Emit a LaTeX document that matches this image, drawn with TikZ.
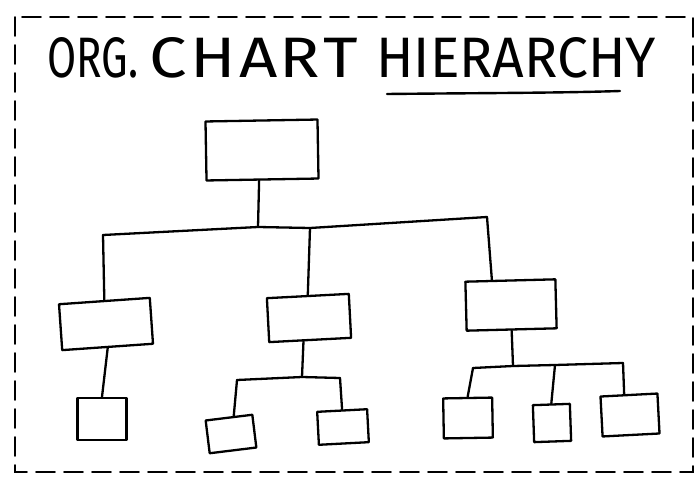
\documentclass[tikz,border=0pt]{standalone}
\usepackage{fontspec}
\setmainfont{Fira Sans}
\usetikzlibrary{calc}
\tikzset{
  ink/.style={line width=2.3pt, line join=round, line cap=round, black},
  box/.style={ink, draw, rectangle, inner sep=0pt},
  link/.style={ink},
  frame/.style={line width=1.8pt, dash pattern=on 19pt off 9pt, line cap=round},
  ttl/.style={inner sep=0pt, anchor=base west, font=\fontsize{58}{60}\selectfont}
}
\begin{document}
\begin{tikzpicture}[x=1pt,y=-1pt]
\fill[white] (0,0) rectangle (698,481);
\useasboundingbox (0,0) rectangle (698,481);
% frame
\draw[frame] (15,17) rectangle (693,472);
% title
\node[ttl] (t1) at (47,78) {\resizebox{91pt}{40pt}{ORG.}};
\node[ttl] (t2) at (149,78) {\resizebox{209pt}{40pt}{C\hspace{3pt}H\hspace{3pt}A\hspace{2pt}R\hspace{3pt}T}};
\node[ttl] (t3) at (376,78) {\resizebox{280pt}{40pt}{HIERARCHY}};
\coordinate (u1) at (387,94);
\coordinate (u2) at (620,91);
\draw[ink, line width=2.4pt] (u1) .. controls (480,93) and (560,93) .. (u2);
% boxes
\node[box, minimum width=112pt, minimum height=59pt, rotate=1] (top) at (262,150) {};
\node[box, minimum width=91pt, minimum height=46pt, rotate=4] (m1) at (106,324) {};
\node[box, minimum width=82pt, minimum height=44pt, rotate=3] (m2) at (309,318) {};
\node[box, minimum width=90pt, minimum height=49pt, rotate=1.5] (m3) at (511,305) {};
\node[box, minimum width=49pt, minimum height=42pt, rotate=0] (b1) at (102,419) {};
\node[box, minimum width=47pt, minimum height=33pt, rotate=7] (b2) at (231,434) {};
\node[box, minimum width=50pt, minimum height=33pt, rotate=3] (b3) at (343,427) {};
\node[box, minimum width=49pt, minimum height=40pt, rotate=1] (b4) at (468,418) {};
\node[box, minimum width=37pt, minimum height=37pt, rotate=2] (b5) at (552,423) {};
\node[box, minimum width=57pt, minimum height=40pt, rotate=3] (b6) at (630,415) {};
% level 1 connectors
\coordinate (c0) at (258,227);
\coordinate (cL) at (103,235);
\coordinate (cM) at (310,228);
\coordinate (cR) at (487,217);
\draw[link] ($(top.south west)!0.47!(top.south east)$) -- (c0);
\draw[link] (cL) -- (c0) -- (cM) -- (cR);
\draw[link] (cL) -- (m1.north);
\draw[link] (cM) -- (m2.north);
\draw[link] (cR) -- ($(m3.north west)!0.3!(m3.north east)$);
% left branch
\draw[link] (m1.south) -- (b1.north);
% middle branch
\coordinate (d0) at (302,377);
\coordinate (dL) at (237,380);
\coordinate (dR) at (340,378);
\draw[link] ($(m2.south west)!0.42!(m2.south east)$) -- (d0);
\draw[link] (dL) -- (d0) -- (dR);
\draw[link] (dL) -- ($(b2.north west)!0.6!(b2.north east)$);
\draw[link] (dR) -- (b3.north);
% right branch
\coordinate (e0) at (513,366);
\coordinate (eL) at (473,368);
\coordinate (eM) at (555,365);
\coordinate (eR) at (623,363);
\draw[link] (m3.south) -- (e0);
\draw[link] (eL) -- (e0) -- (eM) -- (eR);
\draw[link] (eL) -- (b4.north);
\draw[link] (eM) -- (b5.north);
\draw[link] (eR) -- ($(b6.north west)!0.42!(b6.north east)$);
\end{tikzpicture}
\end{document}
